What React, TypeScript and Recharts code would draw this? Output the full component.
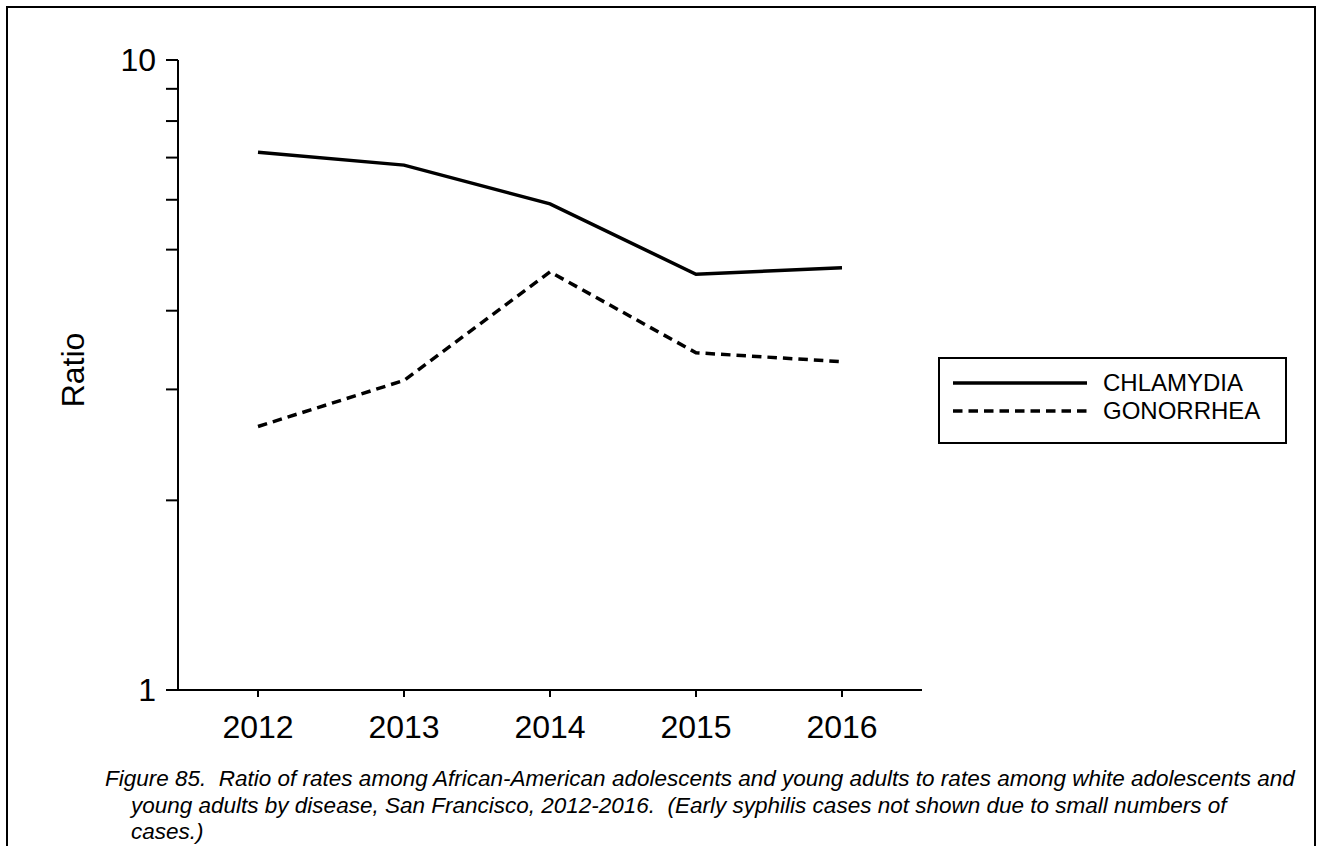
import React from 'react';
import { LineChart, Line, XAxis, YAxis } from 'recharts';

const years = ['2012', '2013', '2014', '2015', '2016'];
const chlamydia = [7.14, 6.81, 5.91, 4.57, 4.68];
const gonorrhea = [2.62, 3.1, 4.61, 3.43, 3.32];
const yTicks = [1, 2, 3, 4, 5, 6, 7, 8, 9, 10];
const yTickLabels = ['1', '10'];
const seriesNames = ['CHLAMYDIA', 'GONORRHEA'];
const yLabel = 'Ratio';
const captionLines = [
  'Figure 85.  Ratio of rates among African-American adolescents and young adults to rates among white adolescents and',
  'young adults by disease, San Francisco, 2012-2016.  (Early syphilis cases not shown due to small numbers of',
  'cases.)',
];

const data = years.map((y, i) => ({ year: y, chlamydia: chlamydia[i], gonorrhea: gonorrhea[i] }));

const FONT = '"Liberation Sans", Arial, sans-serif';
const W = 1319;
const H = 846;

const series = [
  { key: 'chlamydia', name: seriesNames[0], dash: undefined as string | undefined },
  { key: 'gonorrhea', name: seriesNames[1], dash: '9.5 6' },
];

export default function App() {
  return (
    <div style={{ position: 'absolute', left: 0, top: 0, width: W, height: H, background: '#fff', fontFamily: FONT, overflow: 'hidden' }}>
      <div
        style={{
          position: 'absolute',
          left: 6,
          top: 6,
          width: 1310,
          height: 860,
          border: '2px solid #000',
          boxSizing: 'border-box',
        }}
      />
      <div style={{ position: 'absolute', left: 0, top: 0 }}>
        <LineChart width={W} height={H} data={data} margin={{ top: 60, right: 397, bottom: 0, left: 0 }}>
          <XAxis
            dataKey="year"
            xAxisId="b"
            padding={{ left: 80, right: 80 }}
            height={156}
            tickSize={7}
            tickMargin={18}
            axisLine={{ stroke: '#000', strokeWidth: 2 }}
            tickLine={{ stroke: '#000', strokeWidth: 2 }}
            tick={{ fill: '#000', fontSize: 32, fontFamily: FONT }}
          />
          <XAxis
            dataKey="year"
            xAxisId="t"
            orientation="top"
            padding={{ left: 80, right: 80 }}
            height={0}
            tick={false}
            tickLine={false}
            axisLine={{ stroke: '#000', strokeWidth: 2 }}
          />
          <YAxis
            yAxisId="l"
            scale="log"
            type="number"
            domain={[1, 10]}
            ticks={yTicks}
            interval={0}
            allowDataOverflow
            width={178}
            tickSize={12}
            tickMargin={10}
            tickFormatter={(v: number) => (yTickLabels.includes(String(v)) ? String(v) : '')}
            axisLine={{ stroke: '#000', strokeWidth: 2 }}
            tickLine={{ stroke: '#000', strokeWidth: 2 }}
            tick={{ fill: '#000', fontSize: 32, fontFamily: FONT }}
            label={{
              content: (props: any) => {
                const vb = props.viewBox || { x: 0, y: 60, width: 178, height: 630 };
                const cx = vb.x + 73;
                const cy = vb.y + vb.height / 2 - 5;
                return (
                  <text
                    x={cx}
                    y={cy}
                    transform={`rotate(-90 ${cx} ${cy})`}
                    textAnchor="middle"
                    dominantBaseline="central"
                    fontSize={32}
                    fontFamily={FONT}
                    fill="#000"
                  >
                    {yLabel}
                  </text>
                );
              },
            }}
          />
          <YAxis
            yAxisId="r"
            orientation="right"
            type="number"
            domain={[0, 1]}
            width={0}
            tick={false}
            tickLine={false}
            axisLine={{ stroke: '#000', strokeWidth: 2 }}
          />
          {series.map((s) => (
            <Line
              key={s.key}
              xAxisId="b"
              yAxisId="l"
              type="linear"
              dataKey={s.key}
              name={s.name}
              stroke="#000"
              strokeWidth={3.5}
              strokeDasharray={s.dash}
              dot={false}
              activeDot={false}
              isAnimationActive={false}
            />
          ))}
        </LineChart>
      </div>
      <div
        style={{
          position: 'absolute',
          left: 938,
          top: 357,
          width: 349,
          height: 87,
          border: '2px solid #000',
          boxSizing: 'border-box',
          background: '#fff',
        }}
      >
        {series.map((s, i) => (
          <div
            key={s.key}
            style={{ position: 'absolute', left: 12, top: 10 + i * 28, height: 28, display: 'flex', alignItems: 'center' }}
          >
            <svg width={136} height={10} style={{ display: 'block' }}>
              <line x1={1} y1={5} x2={135} y2={5} stroke="#000" strokeWidth={3.5} strokeDasharray={s.dash} />
            </svg>
            <span style={{ marginLeft: 15, fontSize: 24, lineHeight: '28px', color: '#000', fontFamily: FONT }}>{s.name}</span>
          </div>
        ))}
      </div>
      <div
        style={{
          position: 'absolute',
          left: 105,
          top: 766,
          fontStyle: 'italic',
          fontSize: 22.5,
          lineHeight: '26.5px',
          fontFamily: FONT,
          color: '#000',
          whiteSpace: 'pre',
        }}
      >
        {captionLines.map((t, i) => (
          <div key={i} style={{ paddingLeft: i === 0 ? 0 : 26 }}>
            {t}
          </div>
        ))}
      </div>
    </div>
  );
}
